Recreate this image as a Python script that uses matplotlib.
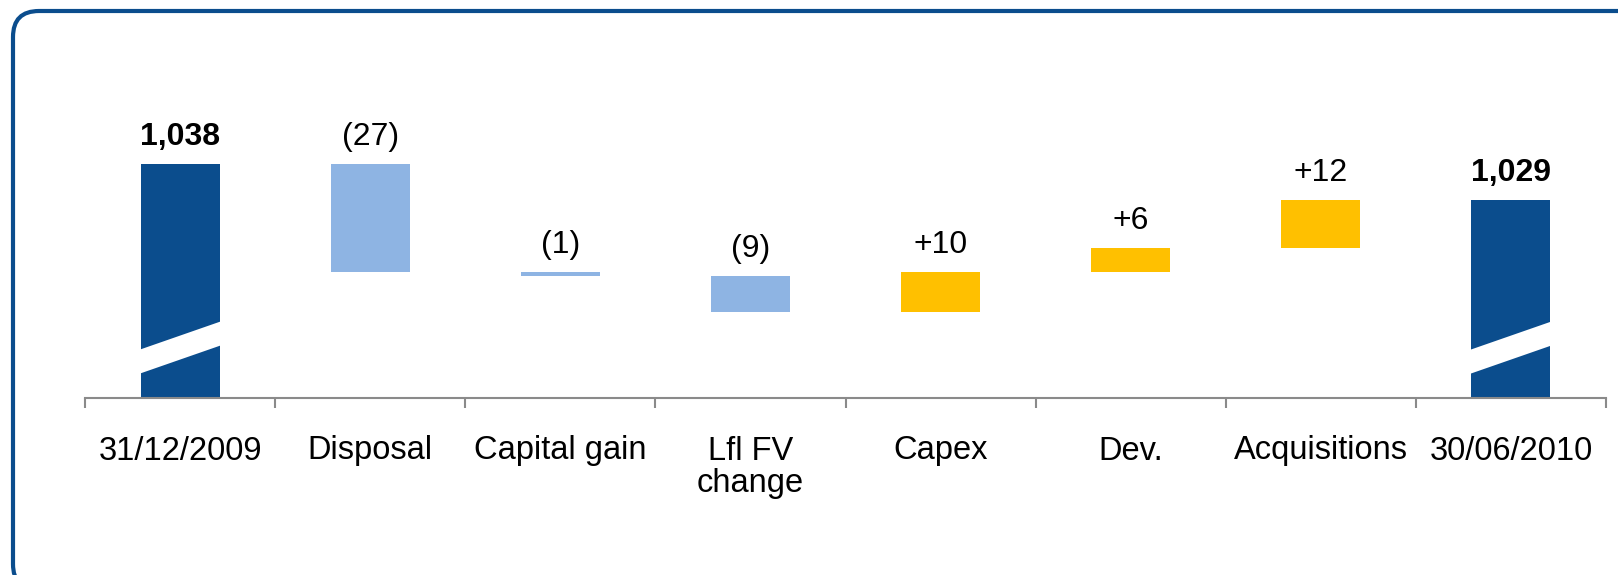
import matplotlib.pyplot as plt
from matplotlib.patches import FancyBboxPatch, Polygon
from matplotlib.transforms import IdentityTransform
import numpy as np

plt.rcParams['font.family'] = ['Liberation Sans', 'DejaVu Sans']

# Data
categories = ['31/12/2009', 'Disposal', 'Capital gain', 'Lfl FV\nchange',
              'Capex', 'Dev.', 'Acquisitions', '30/06/2010']
start_value = 1038
changes = [-27, -1, -9, 10, 6, 12]
end_value = 1029
labels = ['1,038', '(27)', '(1)', '(9)', '+10', '+6', '+12', '1,029']

dark_blue = '#0B4D8D'
light_blue = '#8EB4E3'
yellow = '#FFC000'
axis_grey = '#8A8A8A'

W, H = 1618, 575
fig = plt.figure(figsize=(W / 100, H / 100), dpi=100)

# axes placed in pixel terms
ax_left, ax_right, ax_bottom, ax_top = 85, 1606, 398, 60
ax = fig.add_axes([ax_left / W, 1 - ax_bottom / H,
                   (ax_right - ax_left) / W, (ax_bottom - ax_top) / H])

ymin = 979.5
ymax = 1064
ax.set_xlim(-0.5, len(categories) - 0.5)
ax.set_ylim(ymin, ymax)

bar_w = 0.415

# totals
ax.bar(0, start_value - ymin, bottom=ymin, width=bar_w, color=dark_blue, zorder=2)
ax.bar(len(categories) - 1, end_value - ymin, bottom=ymin, width=bar_w,
       color=dark_blue, zorder=2)

# floating bars
level = start_value
tops = [start_value]
for i, c in enumerate(changes, start=1):
    new = level + c
    lo, hi = min(level, new), max(level, new)
    ax.bar(i, hi - lo, bottom=lo, width=bar_w,
           color=light_blue if c < 0 else yellow, zorder=2)
    tops.append(hi)
    level = new
tops.append(end_value)

# break marks on the total bars
for x in (0, len(categories) - 1):
    x0, x1 = x - bar_w / 2 - 0.01, x + bar_w / 2 + 0.01
    lo_l, rise, thick = 985.5, 7.2, 6.0
    poly = Polygon([(x0, lo_l), (x1, lo_l + rise),
                    (x1, lo_l + rise + thick), (x0, lo_l + thick)],
                   closed=True, facecolor='white', edgecolor='none', zorder=3)
    ax.add_patch(poly)

# value labels
for i, (t, lab) in enumerate(zip(tops, labels)):
    bold = i in (0, len(categories) - 1)
    ax.annotate(lab, (i, t), xytext=(0, 14), textcoords='offset points',
                ha='center', va='baseline', fontsize=23,
                fontweight='bold' if bold else 'normal', color='black')

# axes styling
for s in ('top', 'right', 'left'):
    ax.spines[s].set_visible(False)
ax.spines['bottom'].set_color(axis_grey)
ax.spines['bottom'].set_linewidth(1.5)
ax.set_yticks([])
ax.set_xticks(range(len(categories)))
ax.set_xticklabels(categories, fontsize=23.5, linespacing=1.05)
ax.set_xticks(np.arange(-0.5, len(categories), 1), minor=True)
ax.tick_params(axis='x', which='major', length=0, pad=27)
ax.tick_params(axis='x', which='minor', length=7.5, width=1.5,
               color=axis_grey, direction='out')

# rounded border
border = FancyBboxPatch((13, -15), 1655 - 13, 564 + 15,
                        boxstyle='round,pad=0,rounding_size=26',
                        transform=IdentityTransform(), facecolor='none',
                        edgecolor=dark_blue, linewidth=3)
fig.patches.append(border)

fig.savefig('out.png', dpi=100)
